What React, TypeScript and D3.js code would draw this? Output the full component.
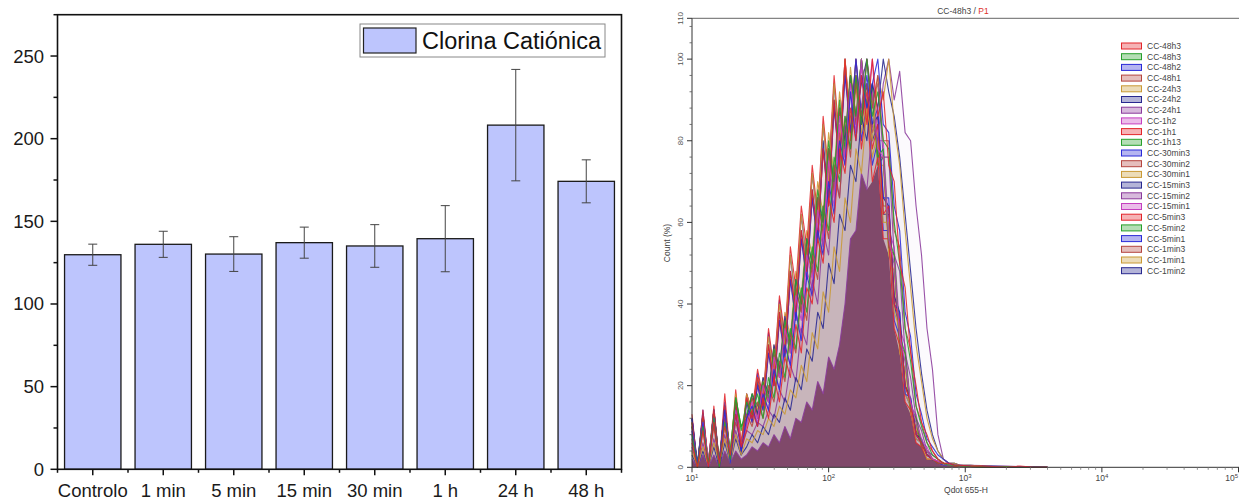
import React from 'react';
import * as d3 from 'd3';

// ---------- Left chart data ----------
const categories = ['Controlo', '1 min', '5 min', '15 min', '30 min', '1 h', '24 h', '48 h'];
const meanValues = [129.8, 136.1, 130.2, 137.1, 135.1, 139.5, 208.2, 174.2];
const errorValues = [6.4, 7.9, 10.5, 9.4, 12.9, 20.0, 33.7, 13.0];
const leftMajorTicks = [0, 50, 100, 150, 200, 250];
const leftMinorTicks = [25, 75, 125, 175, 225, 275];
const legendLabel = 'Clorina Catiónica';

// ---------- Right chart data (log10 of Qdot 655-H bin centres) ----------
const logBins = [
  1.0, 1.04, 1.08, 1.12, 1.16, 1.2, 1.24, 1.28, 1.32, 1.36,
  1.4, 1.44, 1.48, 1.52, 1.56, 1.6, 1.64, 1.68, 1.72, 1.76,
  1.8, 1.84, 1.88, 1.92, 1.96, 2.0, 2.04, 2.08, 2.12, 2.16,
  2.2, 2.24, 2.28, 2.32, 2.36, 2.4, 2.44, 2.48, 2.52, 2.56,
  2.6, 2.64, 2.68, 2.72, 2.76, 2.8, 2.84, 2.88, 2.92, 2.96,
  3.04, 3.12, 3.2, 3.3, 3.4, 3.5, 3.6,
];

const cc48h3a = [6,0,9,0,11,1,10,3,13,5, 9,14,10,17,12,22,16,27,22,35, 28,44,40,56,50,66,60,78,72,88, 80,96,84,100,86,92,74,70,50,44, 28,20,11,8,4,2,1,1,0.5,0.5, 0.3,0.3,0.2,0,0.3,0,0];
const cc48h3b = [8,0,10,1,12,0,11,2,17,9, 16,13,18,12,22,17,28,22,34,29, 44,38,54,48,64,58,76,70,86,78, 96,84,100,86,92,80,78,60,50,34, 26,15,10,6,3,2,1,0.5,0.5,0.3, 0.2,0.2,0,0.2,0,0,0];
const cc48h2 = [9,1,11,0,12,1,14,1,13,4, 12,15,10,18,14,24,19,30,25,38, 31,47,42,58,52,70,62,80,74,92, 80,96,88,94,100,84,82,64,58,38, 32,18,13,7,5,3,2,1,0.5,0.5, 0.3,0.2,0.2,0,0.2,0,0];
const cc48h1 = [7,0,9,1,10,0,12,2,11,6, 13,10,16,12,20,16,26,21,33,28, 42,36,52,46,64,56,74,66,86,76, 94,86,100,88,96,80,80,58,54,34, 29,15,11,6,4,2,1,1,0.5,0.3, 0.2,0.2,0,0.2,0,0,0];
const cc24h3 = [4,0,5,0,6,1,7,1,8,3, 7,6,9,8,12,10,15,13,19,17, 25,21,33,29,43,38,54,48,66,60, 78,72,88,80,96,90,100,84,74,58, 44,30,21,12,7,4,2,1,1,0.5, 0.5,0.3,0.2,0.2,0.2,0,0];
const cc24h2 = [3,0,4,0,5,0,6,1,7,3, 5,8,6,10,8,13,11,17,14,22, 19,29,26,38,34,50,45,62,58,74, 70,86,80,94,88,100,92,86,76,62, 48,34,23,14,8,4,2,1,1,0.5, 0.5,0.3,0.3,0.2,0,0.2,0];
const cc24h1 = [2,0,3,0,3,0,4,1,4,2, 3,5,4,6,5,8,6,10,7,12, 11,16,14,21,18,27,24,30,40,56, 58,72,68,84,80,94,100,90,97,82, 80,64,52,34,24,8,2,1,1,0.5, 0.5,0.4,0.3,0.3,0.2,0.2,0];
const cc1h2 = [9,0,11,2,12,0,13,3,14,6, 11,16,12,20,16,27,22,34,28,42, 36,52,46,63,56,75,66,86,76,94, 82,100,86,92,78,76,56,50,32,26, 16,11,7,4,2,1.5,1,0.5,0.5,0.3, 0.3,0.2,0.2,0,0.2,0,0];
const cc1h1 = [11,0,13,1,14,1,15,2,16,5, 17,12,22,15,30,20,38,28,48,38, 58,48,68,56,78,64,90,72,100,80, 96,84,92,78,84,62,64,40,36,20, 16,8,6,3,2,1,1,0.5,0.3,0.3, 0.2,0.2,0,0.2,0,0,0];
const cc1h13 = [10,1,12,0,13,2,14,4,17,10, 13,18,15,21,17,29,23,36,30,46, 40,56,50,68,60,80,70,90,78,96, 86,100,88,94,76,78,56,52,32,28, 15,12,6,4,2,1,1,0.5,0.3,0.3, 0.2,0,0.2,0,0,0,0];
const cc30min3 = [12,0,13,0,14,1,15,2,16,4, 16,11,20,14,28,20,36,27,46,36, 56,46,66,55,78,64,88,74,96,82, 100,86,96,84,88,66,66,40,38,18, 17,8,6,3,2,1,0.5,0.5,0.3,0.3, 0.2,0.2,0,0,0.2,0,0];
const cc30min2 = [10,0,12,1,13,0,14,2,15,4, 11,17,12,21,16,29,22,35,29,44, 38,54,47,66,57,78,67,88,76,96, 84,100,88,94,76,76,54,52,30,28, 14,12,5,4,2,1.5,1,0.5,0.5,0.3, 0.3,0.2,0,0.2,0,0.2,0];
const cc30min1 = [11,0,13,1,14,0,15,3,18,5, 18,13,22,16,32,22,40,30,52,40, 62,50,72,60,84,70,94,78,100,84, 94,82,90,76,82,60,60,38,34,18, 15,7,6,2,2,1,0.5,0.5,0.3,0.2, 0.2,0,0,0.2,0,0,0];
const cc15min3 = [12,1,13,0,14,1,15,2,16,4, 12,18,13,22,18,30,24,37,30,46, 40,56,50,66,60,78,70,88,80,96, 86,94,100,84,86,66,64,42,38,20, 17,8,7,3,2,1,1,0.5,0.3,0.3, 0.2,0.2,0,0,0,0.2,0];
const cc15min2 = [5,0,6,0,7,1,8,2,9,4, 9,8,11,10,14,12,19,16,25,21, 34,30,46,40,58,52,72,66,84,78, 96,88,100,90,94,76,76,52,48,28, 22,12,9,4,3,2,1,0.5,0.5,0.3, 0.3,0.2,0.2,0,0.2,0,0];
const cc15min1 = [10,0,11,1,12,0,13,2,14,5, 10,15,11,18,14,24,19,30,25,38, 33,48,44,60,54,72,64,84,74,92, 82,98,88,100,80,80,58,54,34,30, 15,13,6,5,2,1.5,1,0.5,0.5,0.3, 0.3,0.2,0.2,0,0.2,0,0];
const cc5min3 = [13,0,14,1,15,1,18,2,19,6, 18,14,24,17,34,24,42,32,54,44, 64,54,74,62,86,72,96,80,100,84, 94,78,88,70,76,56,56,34,30,16, 14,6,5,2,2,1,0.5,0.5,0.3,0.2, 0.2,0.2,0,0,0,0,0];
const cc5min2 = [11,0,12,0,14,1,14,4,17,10, 12,17,13,20,16,28,22,34,28,44, 38,54,48,66,58,78,68,88,78,96, 84,100,86,92,74,76,54,50,30,26, 14,11,5,4,2,1,1,0.5,0.5,0.3, 0.2,0.2,0,0.2,0,0,0];
const cc5min1 = [12,0,14,0,14,0,16,1,16,3, 18,13,23,16,33,22,41,30,52,40, 62,50,72,60,84,70,94,78,100,82, 96,80,90,74,80,58,58,36,32,18, 15,7,6,3,2,1,0.5,0.5,0.3,0.3, 0.2,0,0.2,0,0,0,0];
const cc1min3 = [10,0,12,1,13,1,14,3,15,5, 16,11,20,14,28,20,36,27,46,36, 56,46,66,55,78,66,88,76,96,84, 100,86,94,82,86,64,64,42,36,20, 16,9,6,3,2,1.5,1,0.5,0.5,0.3, 0.3,0.2,0,0.2,0,0,0];
const cc1min1 = [11,0,13,0,13,1,15,2,16,5, 12,18,14,22,18,30,24,38,32,48, 42,58,52,70,62,82,72,92,80,98, 86,100,88,90,74,74,52,48,28,24, 13,10,5,3,2,1,0.5,0.5,0.3,0.2, 0.2,0.2,0,0,0,0,0];
const cc1min2 = [12,0,13,1,14,0,15,2,16,4, 17,12,21,15,30,21,38,28,48,38, 58,48,68,57,80,66,90,76,98,84, 100,84,94,80,84,62,62,40,34,20, 16,8,6,3,2,1,1,0.5,0.3,0.3, 0.2,0.2,0,0,0.2,0,0];

const seriesNames = [
  'CC-48h3', 'CC-48h3', 'CC-48h2', 'CC-48h1', 'CC-24h3', 'CC-24h2', 'CC-24h1', 'CC-1h2',
  'CC-1h1', 'CC-1h13', 'CC-30min3', 'CC-30min2', 'CC-30min1', 'CC-15min3', 'CC-15min2',
  'CC-15min1', 'CC-5min3', 'CC-5min2', 'CC-5min1', 'CC-1min3', 'CC-1min1', 'CC-1min2',
];
const seriesValues = [
  cc48h3a, cc48h3b, cc48h2, cc48h1, cc24h3, cc24h2, cc24h1, cc1h2,
  cc1h1, cc1h13, cc30min3, cc30min2, cc30min1, cc15min3, cc15min2,
  cc15min1, cc5min3, cc5min2, cc5min1, cc1min3, cc1min1, cc1min2,
];
const palette = ['#e3262b', '#27a02c', '#2a2ad8', '#b5453f', '#c99a35', '#28288f', '#8b3a9c', '#c53fc0'];
const seriesColors = seriesNames.map((_, i) => palette[i % palette.length]);
const rightMajorY = [0, 20, 40, 60, 80, 100, 110];
const rightDecades = [1, 2, 3, 4, 5];

const FONT = '"Liberation Sans", Arial, sans-serif';

function LeftChart() {
  const x0 = 57.5, x1 = 621.5, yTop = 14.7, yBot = 469.3;
  const x = d3.scaleBand<string>().domain(categories).range([x0, x1]).paddingInner(0.2).paddingOuter(0.1);
  const y = d3.scaleLinear().domain([0, 275]).range([yBot, yTop]);
  const step = x.step();
  const bounds = d3.range(categories.length + 1).map((k) => x0 + k * step);
  return (
    <g fontFamily={FONT}>
      {categories.map((c, i) => (
        <rect key={c} x={x(c)} y={y(meanValues[i])} width={x.bandwidth()} height={yBot - y(meanValues[i])}
          fill="#bdc5fd" stroke="#1a1a1a" strokeWidth={1.3} />
      ))}
      {categories.map((c, i) => {
        const cx = (x(c) as number) + x.bandwidth() / 2;
        const hi = y(meanValues[i] + errorValues[i]);
        const lo = y(meanValues[i] - errorValues[i]);
        return (
          <g key={c} stroke="#444" strokeWidth={1}>
            <line x1={cx} x2={cx} y1={hi} y2={lo} />
            <line x1={cx - 4.5} x2={cx + 4.5} y1={hi} y2={hi} />
            <line x1={cx - 4.5} x2={cx + 4.5} y1={lo} y2={lo} />
          </g>
        );
      })}
      <rect x={x0} y={yTop} width={x1 - x0} height={yBot - yTop} fill="none" stroke="#111" strokeWidth={1.6} />
      {leftMajorTicks.map((t) => (
        <g key={t}>
          <line x1={x0 - 7} x2={x0} y1={y(t)} y2={y(t)} stroke="#111" strokeWidth={1.5} />
          <text x={44} y={y(t)} dy="0.35em" textAnchor="end" fontSize={18.5} fill="#1a1a1a">{t}</text>
        </g>
      ))}
      {leftMinorTicks.map((t) => (
        <line key={t} x1={x0 - 4} x2={x0} y1={y(t)} y2={y(t)} stroke="#111" strokeWidth={1.5} />
      ))}
      {categories.map((c) => {
        const cx = (x(c) as number) + x.bandwidth() / 2;
        return (
          <g key={c}>
            <line x1={cx} x2={cx} y1={yBot} y2={yBot + 6} stroke="#111" strokeWidth={1.5} />
            <text x={cx} y={497} textAnchor="middle" fontSize={18.5} fill="#1a1a1a">{c}</text>
          </g>
        );
      })}
      {bounds.map((b, k) => (
        <line key={k} x1={b} x2={b} y1={yBot} y2={yBot + 3.5} stroke="#111" strokeWidth={1.5} />
      ))}
      <rect x={360} y={24} width={245} height={33} fill="#fff" stroke="#888" strokeWidth={1} />
      <rect x={363.5} y={28} width={52.5} height={25} fill="#bdc5fd" stroke="#222" strokeWidth={1.2} />
      <text x={422} y={48.5} fontSize={23.5} fill="#111">{legendLabel}</text>
    </g>
  );
}

function RightChart() {
  const xL = 692, xR = 1238.5, yTop = 18.3, yBot = 467.3;
  const x = d3.scaleLog().domain([10, 1e5]).range([xL, xR]);
  const y = d3.scaleLinear().domain([0, 110]).range([yBot, yTop]);
  const px = (i: number) => x(Math.pow(10, logBins[i]));
  const area = d3.area<number>().x((_, i) => px(i)).y0(yBot).y1((d) => y(d));
  const line = d3.line<number>().x((_, i) => px(i)).y((d) => y(d));
  const core = logBins.map((_, i) => d3.min(seriesValues, (s) => s[i]) as number);
  const order = d3.range(seriesValues.length).reverse();
  const minorY = d3.range(0, 111, 4).filter((v) => v % 20 !== 0);
  const minorX = x.ticks().filter((v) => Math.abs(Math.log10(v) - Math.round(Math.log10(v))) > 1e-6);
  return (
    <g fontFamily={FONT}>
      {order.map((i) => (
        <path key={'f' + i} d={area(seriesValues[i]) as string} fill={seriesColors[i]} fillOpacity={0.025} stroke="none" />
      ))}
      <path d={area(core) as string} fill="#80496a" />
      {order.map((i) => (
        <path key={'l' + i} d={line(seriesValues[i]) as string} fill="none" stroke={seriesColors[i]} strokeWidth={1.1} strokeOpacity={0.88} strokeLinejoin="round" />
      ))}
      <line x1={xL} x2={1239} y1={yTop} y2={yTop} stroke="#666" strokeWidth={1} />
      <line x1={xL} x2={xL} y1={yTop} y2={yBot} stroke="#333" strokeWidth={1} />
      <line x1={xL} x2={1239} y1={yBot} y2={yBot} stroke="#333" strokeWidth={1} />
      {rightMajorY.map((t) => (
        <g key={t}>
          <line x1={xL - 5} x2={xL} y1={y(t)} y2={y(t)} stroke="#333" strokeWidth={1} />
          <text x={683} y={y(t)} transform={`rotate(-90, 683, ${y(t)})`} textAnchor="middle" fontSize={8} fill="#555">{t}</text>
        </g>
      ))}
      {minorY.map((t) => (
        <line key={t} x1={xL - 2.5} x2={xL} y1={y(t)} y2={y(t)} stroke="#555" strokeWidth={0.8} />
      ))}
      {rightDecades.map((d) => {
        const cx = x(Math.pow(10, d));
        const last = d === rightDecades[rightDecades.length - 1];
        return (
          <g key={d}>
            <line x1={cx} x2={cx} y1={yBot} y2={yBot + 5} stroke="#333" strokeWidth={1} />
            <text x={last ? 1238 : cx} y={481} textAnchor={last ? 'end' : 'middle'} fontSize={8.5} fill="#444">
              10<tspan fontSize={6} dy={-3.5}>{d}</tspan>
            </text>
          </g>
        );
      })}
      {minorX.map((v, k) => (
        <line key={k} x1={x(v)} x2={x(v)} y1={yBot} y2={yBot + 2.5} stroke="#777" strokeWidth={0.8} />
      ))}
      <text x={966} y={493} textAnchor="middle" fontSize={8.5} fill="#444">Qdot 655-H</text>
      <text x={670} y={243} transform="rotate(-90, 670, 243)" textAnchor="middle" fontSize={8.5} fill="#444">Count (%)</text>
      <text x={963} y={14} textAnchor="middle" fontSize={8.5} fill="#444">
        CC-48h3 / <tspan fill="#e0302a">P1</tspan>
      </text>
      {seriesNames.map((n, i) => {
        const ry = 46 + i * 10.7;
        return (
          <g key={i}>
            <rect x={1121.5} y={ry - 3} width={20} height={6} fill={seriesColors[i]} fillOpacity={0.35} stroke={seriesColors[i]} strokeWidth={1} />
            <text x={1147} y={ry} dy="0.35em" fontSize={8.5} fill="#444">{n}</text>
          </g>
        );
      })}
    </g>
  );
}

export default function App() {
  return (
    <svg width={1239} height={500} style={{ position: 'absolute', left: 0, top: 0, background: '#fff' }}>
      <rect x={0} y={0} width={1239} height={500} fill="#fff" />
      <LeftChart />
      <RightChart />
    </svg>
  );
}
